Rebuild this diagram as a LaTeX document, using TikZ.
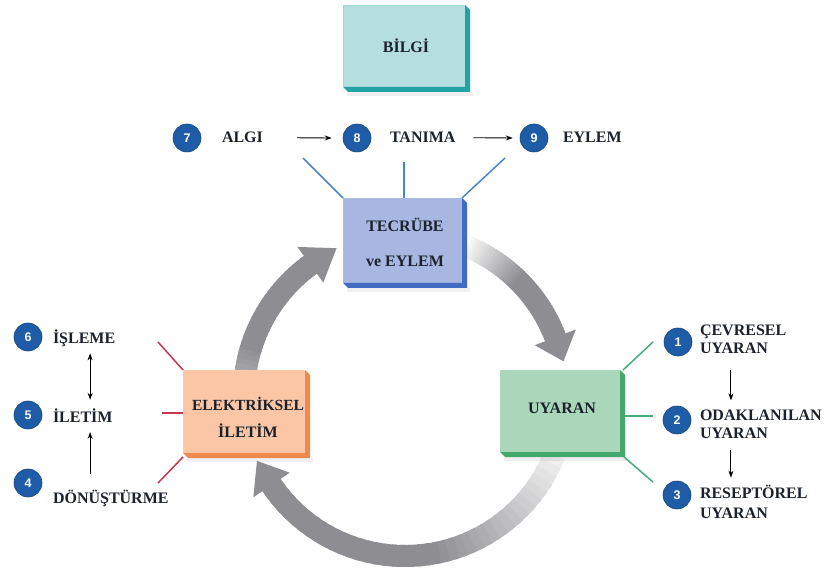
\documentclass[tikz,border=0pt]{standalone}
\usepackage{fontspec}
\setmainfont{Liberation Serif}
\newfontfamily\numfont{Liberation Sans}
\usetikzlibrary{arrows.meta,calc}
\definecolor{txt}{RGB}{28,34,44}
\definecolor{numblue}{RGB}{30,92,168}
\definecolor{arrowgray}{RGB}{142,142,146}
\definecolor{bilF}{RGB}{181,222,222}
\definecolor{bilE}{RGB}{34,163,166}
\definecolor{tecF}{RGB}{168,183,226}
\definecolor{tecE}{RGB}{66,108,194}
\definecolor{eleF}{RGB}{251,198,166}
\definecolor{eleE}{RGB}{238,138,78}
\definecolor{uyaF}{RGB}{170,215,186}
\definecolor{uyaE}{RGB}{66,168,108}
\definecolor{blueL}{RGB}{74,134,197}
\definecolor{redL}{RGB}{200,54,78}
\definecolor{greenL}{RGB}{70,173,122}
\newcommand\cyclearrow[4]{%
  \foreach \i in {0,...,39}{%
    \pgfmathsetmacro\arcA{#1+(#2-#1)*\i/40}%
    \pgfmathsetmacro\arcB{#1+(#2-#1)*(\i+1.5)/40}%
    \pgfmathsetmacro\gval{min(100,#4+(100-#4)*\i/18)}%
    \draw[line width=22, draw=arrowgray!\gval!white] ($(C)+(\arcA:161)$) arc[start angle=\arcA, end angle=\arcB, radius=161];
  }%
  \fill[arrowgray] ($(C)+(#2:139)$) -- ($(C)+(#2:183)$) -- ($(C)+(#3:162)$) -- cycle;
}
\begin{document}
\begin{tikzpicture}[x=1pt,y=1pt,
  lbl/.style={font=\fontsize{16}{18}\selectfont\bfseries, text=txt, inner sep=0, outer sep=0},
  num/.style={circle, fill=numblue, draw=numblue!75!black, line width=0.6, minimum size=28, inner sep=0, text=white, font=\numfont\bfseries\fontsize{12.5}{12.5}\selectfont},
  box/.style={rectangle, anchor=north west, inner sep=0, outer sep=0},
  arr/.style={draw=black, line width=0.9, -{Stealth[length=7pt,width=5pt]}},
  arr2/.style={draw=black, line width=0.9, {Stealth[length=7pt,width=5pt]}-{Stealth[length=7pt,width=5pt]}},
  conn/.style={line width=1.5}
]
\useasboundingbox (0,0) rectangle (828,-572);
\fill[white] (0,0) rectangle (828,-572);
\coordinate (C) at (405,-395);

% cycle arrows
\cyclearrow{67}{21}{12}{8}
\cyclearrow{-22}{-146}{-156}{15}
\cyclearrow{195}{126}{115}{25}

% boxes
\node[box, fill=bilF, minimum width=122, minimum height=82] (bil) at (343,-5) {};
\node[box, fill=tecF, minimum width=119, minimum height=85] (tec) at (343,-198) {};
\node[box, fill=eleF, minimum width=122, minimum height=83] (ele) at (183,-370) {};
\node[box, fill=uyaF, minimum width=120, minimum height=82] (uya) at (500,-370) {};
\foreach \n/\c in {bil/bilE,tec/tecE,ele/eleE,uya/uyaE}{
  \fill[black, opacity=0.06] ([shift={(4,-5)}]\n.south west) rectangle ([shift={(8,-9)}]\n.south east);
  \fill[\c] (\n.north east) -- ++(5,-5) -- ([shift={(5,-5)}]\n.south east) -- ([shift={(5,-5)}]\n.south west) -- (\n.south west) -- (\n.south east) -- cycle;
  \draw[\c!45!white, line width=0.6] (\n.south west) -- (\n.north west) -- (\n.north east);
}

% box texts
\node[lbl, anchor=base] (bilT) at (406,-53) {BİLGİ};
\node[lbl, anchor=base] (tecT1) at (405,-232) {TECRÜBE};
\node[lbl, anchor=base] (tecT2) at (405,-267) {ve EYLEM};
\node[lbl, anchor=base, font=\fontsize{15.5}{18}\selectfont\bfseries] (eleT1) at (248,-410) {ELEKTRİKSEL};
\node[lbl, anchor=base] (eleT2) at (248,-437) {İLETİM};
\node[lbl, anchor=base] (uyaT) at (562,-413) {UYARAN};

% top row
\node[num] (n7) at (187,-138) {7};
\node[lbl, anchor=base west] (algi) at (222,-143) {ALGI};
\node[num] (n8) at (357,-138) {8};
\node[lbl, anchor=base west] (tanima) at (390,-143) {TANIMA};
\node[num] (n9) at (534,-138) {9};
\node[lbl, anchor=base west] (eylem) at (563,-143) {EYLEM};
\draw[arr] ([xshift=34]algi.east) -- ([xshift=-11]n8.west);
\draw[arr] ([xshift=18]tanima.east) -- ([xshift=-7]n9.west);

% left column
\node[num] (n6) at (28,-337) {6};
\node[lbl, anchor=base west] (isleme) at (53,-343) {İŞLEME};
\node[num] (n5) at (28,-415) {5};
\node[lbl, anchor=base west] (iletim) at (53,-422) {İLETİM};
\node[num] (n4) at (28,-483) {4};
\node[lbl, anchor=base west] (donus) at (53,-503) {DÖNÜŞTÜRME};
\draw[arr2, shorten <=7, shorten >=8.5] ([xshift=6]isleme.south) -- ([xshift=6]isleme.south |- iletim.north);
\draw[arr, shorten <=16, shorten >=10] ([xshift=6]isleme.south |- donus.north) -- ([xshift=6]isleme.south |- iletim.south);

% right column
\node[num] (n1) at (678,-342) {1};
\node[lbl, anchor=base west] (cev) at (700,-336) {ÇEVRESEL};
\node[lbl, anchor=base west] (uy1) at (700,-353) {UYARAN};
\node[num] (n2) at (677,-420) {2};
\node[lbl, anchor=base west] (oda) at (700,-420) {ODAKLANILAN};
\node[lbl, anchor=base west] (uy2) at (700,-438) {UYARAN};
\node[num] (n3) at (677,-495) {3};
\node[lbl, anchor=base west] (res) at (700,-498) {RESEPTÖREL};
\node[lbl, anchor=base west] (uy3) at (700,-518) {UYARAN};
\draw[arr, shorten <=17, shorten >=9] ([xshift=-3]uy1.south) -- ([xshift=-3]uy1.south |- oda.north);
\draw[arr, shorten <=12, shorten >=7] ([xshift=-3]uy2.south) -- ([xshift=-3]uy2.south |- res.north);

% blue connectors
\coordinate (bl1) at (303,-158);
\coordinate (bl2) at (404,-162);
\coordinate (bl3) at (505,-158);
\draw[conn, blueL] (bl1) -- (tec.north west);
\draw[conn, blueL] (bl2) -- (bl2 |- tec.north);
\draw[conn, blueL] (bl3) -- (tec.north east);

% red connectors
\coordinate (rd1) at (158,-342);
\coordinate (rd2) at (162,-413);
\coordinate (rd3) at (158,-483);
\draw[conn, redL] (rd1) -- (ele.north west);
\draw[conn, redL] (rd2) -- (rd2 -| ele.west);
\draw[conn, redL] (rd3) -- ([yshift=-4]ele.south west);

% green connectors
\coordinate (gr1) at (653,-342);
\coordinate (gr2) at (653,-416);
\coordinate (gr3) at (653,-482);
\draw[conn, greenL] (gr1) -- ([xshift=3]uya.north east);
\draw[conn, greenL] (gr2) -- ([xshift=5]gr2 -| uya.east);
\draw[conn, greenL] (gr3) -- ([shift={(4,-5)}]uya.south east);
\end{tikzpicture}
\end{document}
